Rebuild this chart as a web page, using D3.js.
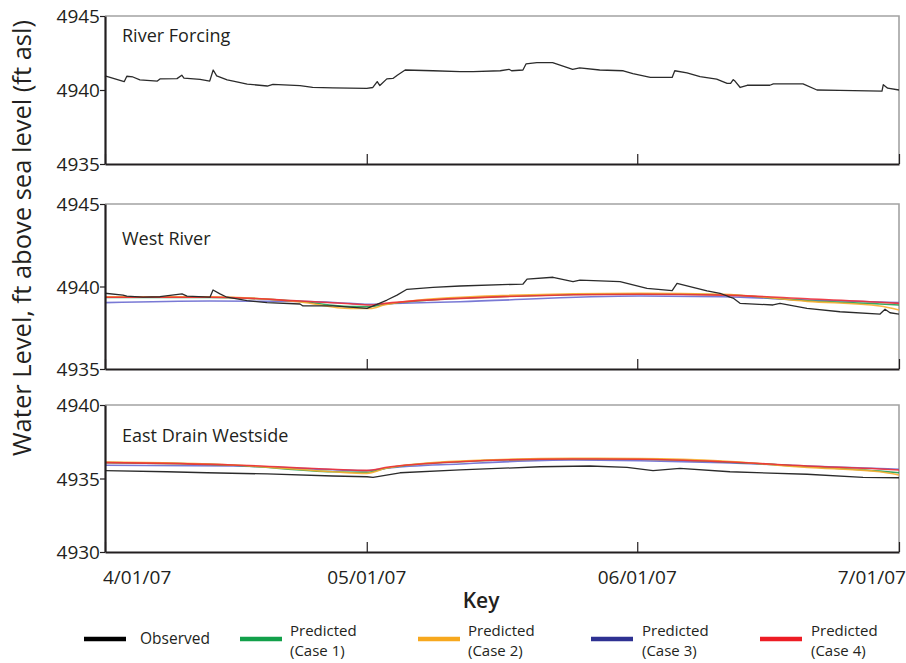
<!DOCTYPE html>
<html>
<head>
<meta charset="utf-8">
<script src="https://cdn.jsdelivr.net/npm/d3@7"></script>
<style>
  html, body { margin: 0; padding: 0; background: #fff; }
  svg { display: block; }
  text { font-family: "Open Sans", "Noto Sans", sans-serif; fill: #231f20; }
</style>
</head>
<body>
<svg id="chart" width="906" height="663"></svg>
<script>
// ---- Data: water levels (ft asl), days counted from 2007-04-01 ----
const startDate = "2007-04-01";
const endDate = "2007-07-01";
const tickDates = ["2007-04-01", "2007-05-01", "2007-06-01", "2007-07-01"];
const tickLabels = ["4/01/07", "05/01/07", "06/01/07", "7/01/07"];

const panelTitles = ["River Forcing", "West River", "East Drain Westside"];
const panelDomains = [[4935, 4945], [4935, 4945], [4930, 4940]];

// River Forcing (observed stage)
const riverForcingDay = [0, 2.2, 2.5, 3.2, 4.0, 6.0, 6.3, 8.25, 8.8, 9.05, 10.9, 12.0, 12.4, 12.8, 14.0, 14.7, 16.3,
  18.6, 19.25, 22.35, 23.8, 26.1, 30.0, 30.7, 31.2, 31.5, 32.3, 33.0, 33.5, 34.4, 37.6, 40.7, 42.2, 45.3, 46.3, 46.6,
  47.9, 48.25, 49.5, 51.3, 53.6, 54.4, 56.7, 59.4, 60.5, 62.5, 65.0, 65.3, 66.7, 68.2, 70.1, 71.3, 71.7, 72.0, 72.2,
  72.8, 73.6, 76.2, 76.6, 80.0, 81.6, 84.2, 89.05, 89.2, 89.7, 91];
const riverForcingObs = [4940.95, 4940.56, 4940.93, 4940.88, 4940.68, 4940.6, 4940.75, 4940.77, 4941.0, 4940.8,
  4940.72, 4940.6, 4941.35, 4940.95, 4940.68, 4940.6, 4940.4, 4940.27, 4940.38, 4940.29, 4940.18, 4940.14, 4940.11,
  4940.17, 4940.57, 4940.3, 4940.75, 4940.78, 4941.0, 4941.35, 4941.3, 4941.24, 4941.24, 4941.3, 4941.4, 4941.3,
  4941.35, 4941.76, 4941.85, 4941.85, 4941.4, 4941.5, 4941.35, 4941.3, 4941.1, 4940.85, 4940.85, 4941.3, 4941.15,
  4940.9, 4940.74, 4940.45, 4940.45, 4940.7, 4940.6, 4940.17, 4940.32, 4940.32, 4940.41, 4940.41, 4940.0, 4939.98,
  4939.93, 4940.36, 4940.12, 4940.0];

// West River (observed)
const westObsDay = [0, 2.06, 2.5, 4.36, 6.3, 8.83, 9.4, 12.03, 12.38, 13.18, 13.98, 16.28, 18.57, 22.35, 22.69, 26.13,
  30.03, 31.17, 32.32, 33.47, 34.61, 37.59, 40.69, 47.91, 48.37, 51.35, 53.64, 54.44, 59.03, 62.12, 65.0, 65.56,
  67.39, 69.0, 70.49, 71.63, 71.98, 72.78, 76.56, 77.36, 80.46, 84.24, 88.83, 89.4, 89.97, 91];
const westObs = [4939.59, 4939.48, 4939.42, 4939.35, 4939.38, 4939.55, 4939.42, 4939.35, 4939.79, 4939.55, 4939.35,
  4939.14, 4939.02, 4938.94, 4938.82, 4938.82, 4938.68, 4938.92, 4939.18, 4939.48, 4939.83, 4939.95, 4940.03,
  4940.15, 4940.45, 4940.56, 4940.29, 4940.39, 4940.29, 4939.89, 4939.75, 4940.19, 4939.95, 4939.73, 4939.59,
  4939.35, 4939.3, 4938.98, 4938.88, 4938.98, 4938.68, 4938.47, 4938.33, 4938.62, 4938.41, 4938.33];

// West River (predicted, four model cases)
const westPredDay = [0, 12.0, 22.4, 28.1, 30.4, 32.1, 40.7, 61.3, 70.8, 80.5, 88.8, 91];
const westCase1 = [4939.33, 4939.33, 4939.09, 4938.78, 4938.78, 4938.92, 4939.29, 4939.55, 4939.5, 4939.14, 4938.94, 4938.88];
const westCase2 = [4939.38, 4939.37, 4939.06, 4938.67, 4938.67, 4938.9, 4939.35, 4939.59, 4939.53, 4939.1, 4938.82, 4938.58];
const westCase3 = [4939.02, 4939.12, 4939.1, 4938.98, 4938.92, 4938.95, 4939.08, 4939.42, 4939.38, 4939.18, 4939.06, 4939.02];
const westCase4 = [4939.35, 4939.35, 4939.12, 4938.95, 4938.88, 4938.98, 4939.28, 4939.53, 4939.48, 4939.26, 4939.05, 4938.98];

// East Drain Westside (observed)
const eastObsDay = [0, 7.11, 11.69, 18.57, 26.13, 30.03, 30.72, 33.81, 40.69, 49.86, 55.59, 59.83, 62.81, 65.9,
  71.63, 80.46, 86.88, 91];
const eastObs = [4935.53, 4935.46, 4935.39, 4935.31, 4935.17, 4935.12, 4935.08, 4935.39, 4935.58, 4935.8, 4935.85,
  4935.76, 4935.53, 4935.69, 4935.46, 4935.29, 4935.08, 4935.05];

// East Drain Westside (predicted)
const eastPredDay = [0, 14.7, 26.1, 30.0, 32.3, 40.7, 53.6, 61.3, 70.8, 80.5, 88.8, 91];
const eastCase1 = [4936.08, 4935.9, 4935.46, 4935.42, 4935.71, 4936.14, 4936.33, 4936.31, 4936.14, 4935.8, 4935.5, 4935.39];
const eastCase2 = [4936.12, 4935.92, 4935.46, 4935.35, 4935.71, 4936.19, 4936.37, 4936.35, 4936.19, 4935.76, 4935.46, 4935.24];
const eastCase3 = [4935.9, 4935.85, 4935.6, 4935.53, 4935.7, 4935.99, 4936.26, 4936.21, 4936.08, 4935.85, 4935.68, 4935.63];
const eastCase4 = [4936.08, 4935.92, 4935.63, 4935.55, 4935.76, 4936.14, 4936.33, 4936.31, 4936.14, 4935.85, 4935.65, 4935.58];

const legendNames = ["Observed", "Predicted\n(Case 1)", "Predicted\n(Case 2)", "Predicted\n(Case 3)", "Predicted\n(Case 4)"];

// ---- Styling ----
const obsColor = "#2b2b2b";
const caseColors = ["#12a04a", "#f7a81e", "#2e3192", "#ed1c24"];   // legend swatches
const caseLineColors = ["#20a050", "#f8ad30", "#6a6ad0", "#ee3038"]; // plotted lines

// ---- Layout ----
const svg = d3.select("#chart");
const plotLeft = 105, plotRight = 899;
const panelBox = [
  { top: 16, bottom: 164, titleY: 42 },
  { top: 204, bottom: 369, titleY: 245 },
  { top: 405, bottom: 552, titleY: 442 }
];

const parseDate = d3.utcParse("%Y-%m-%d");
const t0 = parseDate(startDate);
const dayToDate = d => new Date(t0.getTime() + d * 864e5);

const x = d3.scaleUtc()
  .domain([t0, parseDate(endDate)])
  .range([plotLeft, plotRight]);

const tickDateObjs = tickDates.map(parseDate);

function seriesPoints(days, vals) {
  return days.map((d, i) => ({ date: dayToDate(d), v: vals[i] }));
}

const panels = [
  { obs: seriesPoints(riverForcingDay, riverForcingObs), preds: [] },
  { obs: seriesPoints(westObsDay, westObs),
    preds: [westCase1, westCase2, westCase3, westCase4].map(v => seriesPoints(westPredDay, v)) },
  { obs: seriesPoints(eastObsDay, eastObs),
    preds: [eastCase1, eastCase2, eastCase3, eastCase4].map(v => seriesPoints(eastPredDay, v)) }
];

// Drawing order of the predicted cases (case 4 on top)
const predOrder = [2, 0, 1, 3];

panels.forEach((p, i) => {
  const box = panelBox[i];
  const dom = panelDomains[i];
  const y = d3.scaleLinear().domain(dom).range([box.bottom, box.top]);
  const g = svg.append("g");

  // top and right frame lines
  g.append("path")
    .attr("d", `M${plotLeft},${box.top}H${plotRight}V${box.bottom}`)
    .attr("fill", "none").attr("stroke", "#a3a3a3").attr("stroke-width", 1.6);

  const predLine = d3.line().x(d => x(d.date)).y(d => y(d.v)).curve(d3.curveMonotoneX);
  predOrder.forEach(k => {
    if (!p.preds[k]) return;
    g.append("path")
      .datum(p.preds[k])
      .attr("d", predLine)
      .attr("fill", "none")
      .attr("stroke", caseLineColors[k])
      .attr("stroke-width", 1.6)
      .attr("stroke-opacity", 0.9);
  });

  const obsLine = d3.line().x(d => x(d.date)).y(d => y(d.v));
  g.append("path")
    .datum(p.obs)
    .attr("d", obsLine)
    .attr("fill", "none")
    .attr("stroke", obsColor)
    .attr("stroke-width", 1.3)
    .attr("stroke-linejoin", "round");

  // x axis: inward ticks on every panel
  const xAxis = d3.axisBottom(x)
    .tickValues(tickDateObjs)
    .tickSizeInner(-10)
    .tickSizeOuter(0)
    .tickFormat("");
  const xg = g.append("g")
    .attr("transform", `translate(0,${box.bottom})`)
    .call(xAxis);
  xg.select(".domain").attr("stroke", "#231f20").attr("stroke-width", 2.2);
  xg.selectAll(".tick line").attr("stroke", "#231f20").attr("stroke-width", 1.2);

  // y axis
  const yAxis = d3.axisLeft(y)
    .tickValues([dom[0], (dom[0] + dom[1]) / 2, dom[1]])
    .tickSizeInner(5)
    .tickSizeOuter(0)
    .tickPadding(0)
    .tickFormat(d3.format("d"));
  const yg = g.append("g")
    .attr("transform", `translate(${plotLeft},0)`)
    .call(yAxis);
  yg.select(".domain").attr("stroke", "#231f20").attr("stroke-width", 2.2);
  yg.selectAll(".tick line").attr("stroke", "#231f20").attr("stroke-width", 1.2);
  yg.selectAll(".tick text")
    .attr("font-size", 19)
    .attr("font-family", "'Open Sans', sans-serif")
    .attr("fill", "#231f20")
    .attr("dy", "0.36em");

  // panel title
  g.append("text")
    .attr("x", 122)
    .attr("y", box.titleY)
    .attr("font-size", 18)
    .text(panelTitles[i]);

  // date labels under the last panel
  if (i === panels.length - 1) {
    const lab = g.append("g");
    tickDateObjs.forEach((d, k) => {
      const first = k === 0, last = k === tickDateObjs.length - 1;
      lab.append("text")
        .attr("x", x(d) + (first ? -2 : last ? 7 : 0))
        .attr("y", box.bottom + 32)
        .attr("text-anchor", first ? "start" : last ? "end" : "middle")
        .attr("font-size", 19)
        .text(tickLabels[k]);
    });
  }
});

// y axis title
svg.append("text")
  .attr("transform", "translate(31,238) rotate(-90)")
  .attr("text-anchor", "middle")
  .attr("font-size", 25.5)
  .text("Water Level, ft above sea level (ft asl)");

// ---- Key ----
svg.append("text")
  .attr("x", 481)
  .attr("y", 608)
  .attr("text-anchor", "middle")
  .attr("font-size", 21)
  .attr("font-weight", 600)
  .text("Key");

const legendSwatchX = [84, 240, 418, 591, 760];
const legendTextX = [140, 290, 468, 642, 811];
const legendColorsFixed = ["#000000", ...caseColors];

legendNames.forEach((name, i) => {
  const gl = svg.append("g");
  gl.append("line")
    .attr("x1", legendSwatchX[i]).attr("x2", legendSwatchX[i] + 42)
    .attr("y1", 639).attr("y2", 639)
    .attr("stroke", legendColorsFixed[i])
    .attr("stroke-width", 4.5);
  const lines = name.split("\n");
  if (lines.length === 1) {
    gl.append("text")
      .attr("x", legendTextX[i])
      .attr("y", 644)
      .attr("font-size", 15.5)
      .text(lines[0]);
  } else {
    // two-line label, each line as its own text element
    lines.forEach((ln, j) => {
      gl.append("text")
        .attr("x", legendTextX[i])
        .attr("y", 635.5 + j * 20.5)
        .attr("font-size", 15)
        .text(ln);
    });
  }
});
</script>
</body>
</html>
